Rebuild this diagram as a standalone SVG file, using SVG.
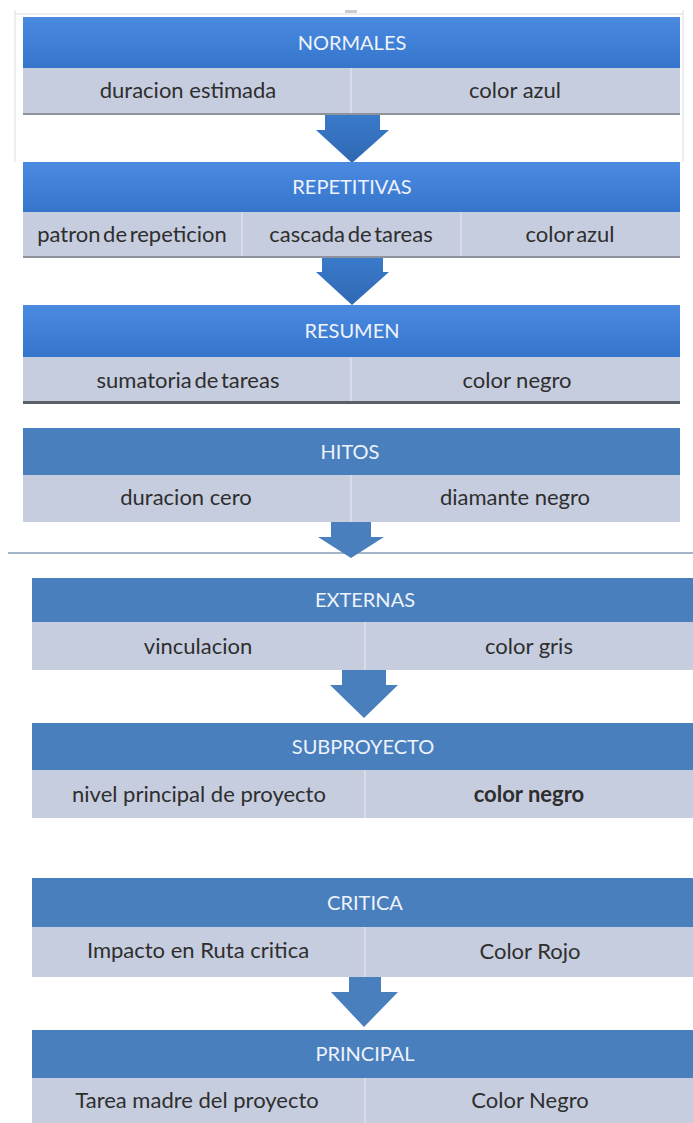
<svg xmlns="http://www.w3.org/2000/svg" width="693" height="1123" viewBox="0 0 693 1123">
<defs>
<linearGradient id="hdrTop" x1="0" y1="0" x2="0" y2="1">
<stop offset="0" stop-color="#4a8ae0"/>
<stop offset="1" stop-color="#3575cc"/>
</linearGradient>
<linearGradient id="arrTop" x1="0" y1="0" x2="0" y2="1">
<stop offset="0" stop-color="#3a7acb"/>
<stop offset="1" stop-color="#2f68b2"/>
</linearGradient>
<style>
.hdrA{fill:url(#hdrTop);}
.hdrB{fill:#4a7fbe;}
.row{fill:#c6cddf;}
.div{stroke:#dde1ea;stroke-width:1.5;}
.shadow{fill:#8d929c;}
.ttl{font-family:Lato,"Open Sans","Liberation Sans",sans-serif;font-size:20px;fill:#eef3fb;text-anchor:middle;}
.txt{font-family:Lato,"Open Sans","Liberation Sans",sans-serif;font-size:22px;fill:#2e2e2e;text-anchor:middle;}
.arrA{fill:url(#arrTop);}
.arrB{fill:#4a7fbe;}
.frame{stroke:#d9dde5;stroke-width:1;fill:none;}
</style>
</defs>
<rect width="693" height="1123" fill="#ffffff"/>
<path class="frame" d="M15,10 V162 M683,10 V162 M15,14 H683"/>
<rect x="345" y="10" width="12" height="3" fill="#c9ccd2"/>
<line x1="8" y1="553" x2="693" y2="553" stroke="#a4b6c9" stroke-width="2"/>

<g id="connectors">
<polygon class="arrA" points="325,115 380,115 380,130 389,130 352,163 316,130 325,130"/>
<polygon class="arrA" points="322,258 383,258 383,272 389,272 352,305 316,272 322,272"/>
<polygon class="arrB" points="331,522 371,522 371,537 384,537 351,558 318,537 331,537"/>
<polygon class="arrB" points="342,670 386,670 386,685 398,685 364,718 330,685 342,685"/>
<polygon class="arrB" points="349,977 381,977 381,992 398,992 364,1027 331,992 349,992"/>
</g>

<g id="normales">
<rect class="hdrA" x="23" y="17" width="657" height="51"/>
<rect class="row" x="23" y="68" width="657" height="47"/>
<rect class="shadow" x="23" y="113" width="657" height="2"/>
<line class="div" x1="351" y1="68" x2="351" y2="113"/>
<text class="ttl" x="352" y="50">NORMALES</text>
<text class="txt" x="188" y="98">duracion estimada</text>
<text class="txt" x="515" y="98">color azul</text>
</g>

<g id="repetitivas">
<rect class="hdrA" x="23" y="162" width="657" height="50"/>
<rect class="row" x="23" y="212" width="657" height="46"/>
<rect class="shadow" x="23" y="256" width="657" height="2"/>
<line class="div" x1="242" y1="212" x2="242" y2="256"/>
<line class="div" x1="461" y1="212" x2="461" y2="256"/>
<text class="ttl" x="352" y="194">REPETITIVAS</text>
<text class="txt" x="132" y="242" word-spacing="-3">patron de repeticion</text>
<text class="txt" x="351" y="242" word-spacing="-3">cascada de tareas</text>
<text class="txt" x="570" y="242" word-spacing="-3">color azul</text>
</g>

<g id="resumen">
<rect class="hdrA" x="23" y="305" width="657" height="52"/>
<rect class="row" x="23" y="357" width="657" height="46"/>
<rect x="23" y="401" width="657" height="3" fill="#5a5f68"/>
<line class="div" x1="351" y1="357" x2="351" y2="401"/>
<text class="ttl" x="352" y="338">RESUMEN</text>
<text class="txt" x="188" y="388" word-spacing="-3">sumatoria de tareas</text>
<text class="txt" x="517" y="388">color negro</text>
</g>

<g id="hitos">
<rect class="hdrB" x="23" y="428" width="657" height="47"/>
<rect class="row" x="23" y="475" width="657" height="47"/>
<line class="div" x1="351" y1="475" x2="351" y2="522"/>
<text class="ttl" x="350" y="459">HITOS</text>
<text class="txt" x="186" y="505">duracion cero</text>
<text class="txt" x="515" y="505">diamante negro</text>
</g>

<g id="externas">
<rect class="hdrB" x="32" y="578" width="670" height="44"/>
<rect class="row" x="32" y="622" width="670" height="48"/>
<line class="div" x1="365" y1="622" x2="365" y2="670"/>
<text class="ttl" x="365" y="607">EXTERNAS</text>
<text class="txt" x="198" y="654" font-size="24">vinculacion</text>
<text class="txt" x="529" y="654" font-size="23">color gris</text>
</g>

<g id="subproyecto">
<rect class="hdrB" x="32" y="723" width="670" height="47"/>
<rect class="row" x="32" y="770" width="670" height="48"/>
<line class="div" x1="365" y1="770" x2="365" y2="818"/>
<text class="ttl" x="363" y="754">SUBPROYECTO</text>
<text class="txt" x="199" y="802" font-size="23">nivel principal de proyecto</text>
<text class="txt" x="529" y="802" font-size="24" font-weight="bold" fill="#1e1e1e">color negro</text>
</g>

<g id="critica">
<rect class="hdrB" x="32" y="878" width="670" height="49"/>
<rect class="row" x="32" y="927" width="670" height="50"/>
<line class="div" x1="365" y1="927" x2="365" y2="977"/>
<text class="ttl" x="365" y="910">CRITICA</text>
<text class="txt" x="198" y="958" font-size="20">Impacto en Ruta critica</text>
<text class="txt" x="530" y="959">Color Rojo</text>
</g>

<g id="principal">
<rect class="hdrB" x="32" y="1030" width="670" height="48"/>
<rect class="row" x="32" y="1078" width="670" height="50"/>
<line class="div" x1="365" y1="1078" x2="365" y2="1123"/>
<text class="ttl" x="365" y="1061">PRINCIPAL</text>
<text class="txt" x="197" y="1108" font-size="20">Tarea madre del proyecto</text>
<text class="txt" x="530" y="1108">Color Negro</text>
</g>
</svg>
